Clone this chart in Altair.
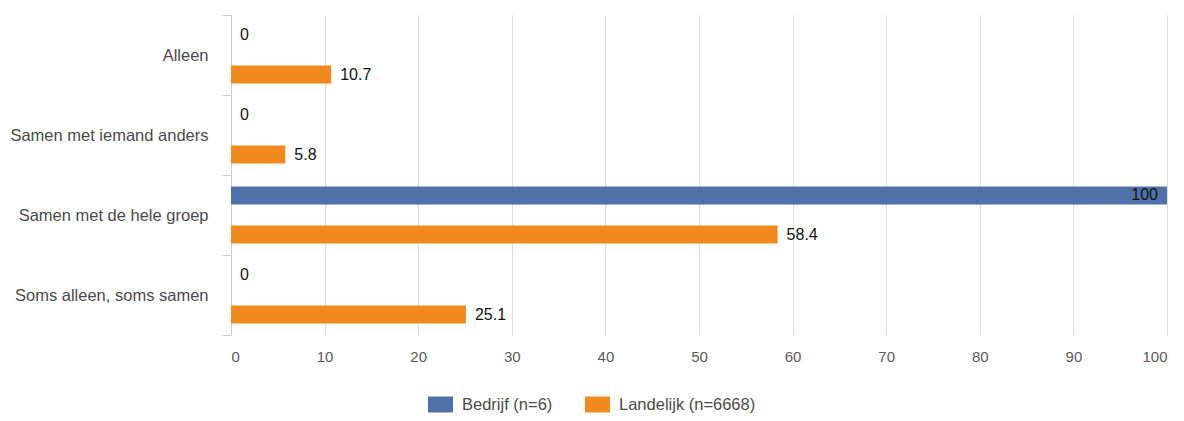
import altair as alt
import pandas as pd

categories = ["Alleen", "Samen met iemand anders", "Samen met de hele groep", "Soms alleen, soms samen"]
series = ["Bedrijf (n=6)", "Landelijk (n=6668)"]
bedrijf = [0, 0, 100, 0]
landelijk = [10.7, 5.8, 58.4, 25.1]
colors = ["#4F71A8", "#F0891E"]
x_ticks = [0, 10, 20, 30, 40, 50, 60, 70, 80, 90, 100]

rows = []
for c, b, l in zip(categories, bedrijf, landelijk):
    rows.append({"cat": c, "series": series[0], "value": b})
    rows.append({"cat": c, "series": series[1], "value": l})
df = pd.DataFrame(rows)

FONT = "Liberation Sans"

y_enc = alt.Y("cat:N", sort=categories, scale=alt.Scale(paddingInner=0, paddingOuter=0),
              axis=alt.Axis(title=None, tickBand="extent", tickSize=9, tickColor="#c3cee0",
                            domainColor="#c3cee0", labelPadding=14, labelFontSize=16.5,
                            labelLimit=400, labelColor="#4a4a4a", labelFont=FONT, grid=False))
yoff = alt.YOffset("series:N", sort=series, scale=alt.Scale(paddingInner=0.54, paddingOuter=0.295))
x_enc = alt.X("value:Q", scale=alt.Scale(domain=[0, 100], nice=False),
              axis=alt.Axis(title=None, values=x_ticks, ticks=False, domain=False, labelPadding=14,
                            labelFontSize=15, labelColor="#5a5a5a", labelFont=FONT,
                            grid=True, gridColor="#dcdcdc"))

bars = alt.Chart(df).mark_bar().encode(
    x=x_enc, y=y_enc, yOffset=yoff,
    color=alt.Color("series:N", sort=series, scale=alt.Scale(domain=series, range=colors),
                    legend=alt.Legend(title=None, orient="none", legendX=197, legendY=377,
                                      direction="horizontal", padding=0,
                                      symbolType="M-1,-0.64H1V0.64H-1Z", symbolSize=625,
                                      symbolStrokeWidth=0, symbolOpacity=1,
                                      labelFontSize=16.5, labelColor="#4a4a4a",
                                      labelFont=FONT, labelOffset=9, columnPadding=32)),
)

base_text = alt.Chart(df).transform_calculate(label="format(datum.value, '.1~f')")
text_out = base_text.transform_filter("datum.value < 100").mark_text(
    align="left", baseline="middle", dx=9, fontSize=16, font=FONT, color="#111"
).encode(x="value:Q", y=alt.Y("cat:N", sort=categories), yOffset=alt.YOffset("series:N", sort=series), text="label:N")
text_in = base_text.transform_filter("datum.value >= 100").mark_text(
    align="right", baseline="middle", dx=-9, fontSize=16, font=FONT, color="#111"
).encode(x="value:Q", y=alt.Y("cat:N", sort=categories), yOffset=alt.YOffset("series:N", sort=series), text="label:N")

chart = alt.layer(bars, text_out, text_in).properties(
    width=936, height=320,
    autosize=alt.AutoSizeParams(type="none"),
    padding={"left": 223, "top": 7, "right": 9, "bottom": 78},
).configure_view(stroke=None)

chart.save("out.html", embed_options={"renderer": "svg", "actions": False})
